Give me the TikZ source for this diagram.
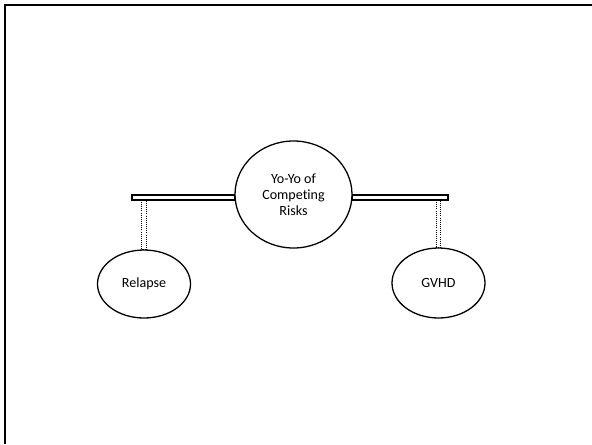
\documentclass[tikz,border=0pt]{standalone}
\usepackage{fontspec}
\setmainfont{Carlito}[Ligatures=NoCommon]
\usetikzlibrary{shapes.geometric}

\begin{document}
\begin{tikzpicture}[x=0.03cm,y=-0.03cm,bubble/.style={ellipse,draw,line width=1.1pt,fill=white,inner sep=0pt,font=\fontsize{12}{13.6}\selectfont,align=center},beam/.style={draw,line width=1pt,fill=white},rope/.style={draw,densely dotted,line width=0.8pt}]
\useasboundingbox (0,0) rectangle (592,444);
\draw[line width=1.6pt] (5,444) -- (5,5) -- (592,5);
\coordinate (L) at (132,195);
\coordinate (R) at (448,200);
\node[bubble,minimum width=3.51cm,minimum height=3.21cm] (hub) at (293.5,194.5) {Yo-Yo of\\Competing\\Risks};
\node[bubble,minimum width=2.79cm,minimum height=2.04cm] (relapse) at (144,284) {Relapse};
\node[bubble,minimum width=2.79cm,minimum height=2.1cm] (gvhd) at (438.5,283) {GVHD};
\draw[beam] (L) rectangle (hub.west |- R);
\draw[beam] (hub.east |- L) rectangle (R);
\draw[rope] ([xshift=-0.07cm]relapse.north) rectangle ([xshift=0.07cm]relapse.north |- R);
\draw[rope] ([xshift=-0.07cm]gvhd.north) rectangle ([xshift=0.07cm]gvhd.north |- R);
\end{tikzpicture}
\end{document}
